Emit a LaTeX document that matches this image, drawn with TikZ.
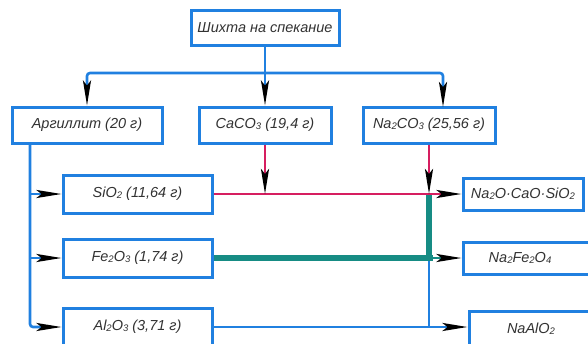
\documentclass[tikz,border=0pt]{standalone}
\usepackage{fontspec}
\setmainfont{Liberation Sans}
\usetikzlibrary{arrows.meta,calc}
\definecolor{lineblue}{RGB}{32,128,224}
\definecolor{linered}{RGB}{214,30,96}
\definecolor{lineteal}{RGB}{22,140,132}
\definecolor{inkgray}{RGB}{50,50,50}
% small chemical index set close to the baseline
\newcommand\chidx[1]{\raisebox{-0.15ex}{\fontsize{9.5}{9.5}\selectfont #1}}
\tikzset{
  x=1pt, y=-1pt,
  labelfont/.style={text=inkgray, font=\fontsize{14.5}{16}\selectfont\itshape},
  box/.style={draw=lineblue, line width=3pt, fill=white, inner sep=0pt,
    minimum height=36pt, labelfont},
  tip/.style={-{Stealth[length=25pt,width=8pt,inset=5pt,color=black]}},
  blueline/.style={draw=lineblue, line width=2.6pt},
  redline/.style={draw=linered, line width=2.8pt},
  tealline/.style={draw=lineteal, line width=5.4pt},
}
\begin{document}
\begin{tikzpicture}
\useasboundingbox (0,0) rectangle (588,343);

% feed and raw materials
\node[box, minimum width=148pt, minimum height=35pt] (feed) at (265,27.5) {Шихта на спекание};
\node[box, minimum width=150pt] (arg)  at (87,125)  {Аргиллит (20 г)};
\node[box, minimum width=132pt] (caco) at (265,125) {CaCO\chidx{3} (19,4 г)};
\node[box, minimum width=132pt] (naco) at (429,125) {Na\chidx{2}CO\chidx{3} (25,56 г)};

% oxides of the clay
\node[box, minimum width=149pt, minimum height=38pt] (sio) at (137.5,194) {SiO\chidx{2} (11,64 г)};
\node[box, minimum width=149pt, minimum height=38pt] (fe)  at (137.5,258) {Fe\chidx{2}O\chidx{3} (1,74 г)};
\node[box, minimum width=149pt, minimum height=38pt] (al)  at (137.5,327) {Al\chidx{2}O\chidx{3} (3,71 г)};

% sintering products
\node[box, minimum width=120pt, minimum height=32pt] (p1) at (523,194) {Na\chidx{2}O·CaO·SiO\chidx{2}};
\node[box, minimum width=128pt, minimum height=32pt,
      label={[xshift=-7pt, labelfont]center:Na\chidx{2}Fe\chidx{2}O\chidx{4}}] (p2) at (527,258) {};
\node[box, minimum width=124pt, minimum height=36pt] (p3) at (531,329) {NaAlO\chidx{2}};

% junction points
\coordinate (hub) at (265,73);
\coordinate (nacoin) at (443,107);
\coordinate (bus) at (30,0);
\coordinate (jr) at (433,194);
\coordinate (jf) at (433,258);
\coordinate (ja) at (441,327);

% distribution of the feed
\draw[blueline] (feed.south) -- (hub);
\draw[blueline, tip, rounded corners=3pt] (hub) -| (arg.north);
\draw[blueline, tip] (hub) -- (caco.north);
\draw[blueline, tip, rounded corners=3pt] (hub) -| (nacoin);

% clay split into oxides
\draw[blueline, tip, rounded corners=3pt] (arg.south -| bus) |- (al.west);
\draw[blueline, tip] (sio.west -| bus) -- (sio.west);
\draw[blueline, tip] (fe.west -| bus) -- (fe.west);

% iron and aluminium routes
\draw[blueline] (naco.south |- fe.east) -- (naco.south |- al.east);
\draw[blueline] (al.east) -- (ja);
\draw[tealline] (naco.south |- sio.east) -- (naco.south |- fe.east);
\draw[tealline] (fe.east) -- (jf);

% silica route
\draw[redline] (sio.east) -- (jr);
\draw[redline, tip] (caco.south) -- (caco.south |- sio.east);
\draw[redline, tip] (naco.south) -- (naco.south |- sio.east);

% arrows into the products
\draw[redline, tip] (jr) -- (p1.west);
\draw[tealline, line width=2.6pt, tip] (jf) -- (p2.west);
\draw[blueline, tip] (ja) -- (ja -| p3.west);
\end{tikzpicture}
\end{document}
